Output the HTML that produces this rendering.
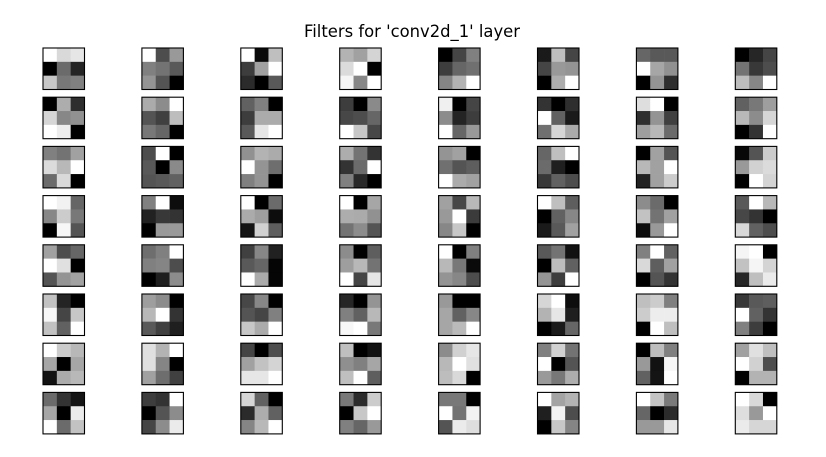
<!DOCTYPE html>
<html><head><meta charset="utf-8">
<style>
html,body{margin:0;padding:0;background:#fff;}
#wrap{width:826px;height:457px;position:relative;overflow:hidden;}
</style></head>
<body>
<div id="wrap">
<svg id="fig" width="826" height="457" viewBox="0 0 826 457" xmlns="http://www.w3.org/2000/svg">
<text x="412" y="37" text-anchor="middle" font-family="DejaVu Sans, Liberation Sans, sans-serif" font-size="16.4" fill="#000">Filters for 'conv2d_1' layer</text>
</svg>
</div>
<script>
const row1 = [
[1.0,0.85,0.9,0.0,0.42,0.14,0.78,0.47,0.5],
[1.0,0.3,0.6,0.5,0.45,0.35,0.58,0.33,0.0],
[1.0,0.04,0.75,0.24,0.63,1.0,0.17,0.0,0.35],
[0.7,0.63,0.83,0.86,1.0,0.0,0.96,0.53,1.0],
[0.0,0.27,0.5,0.24,0.4,0.44,0.52,0.7,1.0],
[0.1,0.75,0.27,0.27,0.6,0.58,0.0,0.68,1.0],
[0.4,0.35,0.35,1.0,0.65,0.57,0.0,0.58,0.18],
[0.0,0.15,0.27,0.45,0.22,0.3,0.74,0.53,1.0]];
const row2 = [
[0.0,0.68,0.18,0.84,0.53,0.57,1.0,0.93,0.0],
[0.67,0.55,1.0,0.33,0.25,0.74,0.47,0.4,0.0],
[0.38,0.5,0.0,0.24,0.67,0.67,0.35,0.9,1.0],
[0.24,0.0,0.54,0.28,0.3,0.4,1.0,0.78,0.28],
[0.94,0.0,0.27,0.55,0.14,0.24,1.0,0.4,0.6],
[0.2,0.0,0.18,1.0,0.38,0.1,0.44,0.84,0.67],
[0.87,1.0,0.0,0.18,0.58,0.25,0.62,0.72,0.42],
[0.38,0.47,0.62,0.72,0.55,0.84,0.0,0.2,1.0]];
const row3 = [
[0.5,0.45,0.63,0.86,0.72,1.0,0.42,0.85,0.0],
[0.3,1.0,0.0,0.35,0.0,0.54,0.33,0.35,0.38],
[0.57,0.7,0.67,1.0,0.58,0.43,0.5,0.58,0.0],
[0.68,0.45,0.2,0.2,0.42,1.0,0.5,0.16,0.0],
[0.58,0.63,0.0,0.44,0.33,0.37,1.0,0.67,0.63],
[0.4,0.75,1.0,0.42,0.12,0.0,0.22,0.38,0.3],
[0.0,0.63,0.33,0.72,0.63,1.0,0.13,0.63,0.8],
[0.03,0.33,0.8,0.6,0.82,0.86,0.0,1.0,0.83]];
const row4 = [
[1.0,0.95,0.4,0.53,0.8,0.47,0.0,0.97,0.33],
[0.5,1.0,0.05,0.13,0.22,0.2,0.0,0.6,0.6],
[1.0,0.0,0.42,0.67,0.62,0.05,0.08,0.82,0.37],
[1.0,0.0,0.65,0.68,0.67,0.57,0.45,0.55,0.33],
[0.63,0.28,0.72,0.6,1.0,0.23,0.53,0.78,0.0],
[1.0,0.75,0.37,0.0,0.38,0.53,0.1,0.35,0.63],
[0.55,0.42,0.0,0.76,0.45,0.63,0.05,0.6,1.0],
[0.35,1.0,0.72,0.28,0.2,0.0,0.85,0.38,0.3]];
const row5 = [
[0.63,0.3,0.4,1.0,0.88,0.0,0.33,0.58,0.63],
[0.43,0.5,1.0,0.5,0.52,0.3,0.0,0.12,0.55],
[0.25,0.53,0.13,0.35,0.4,0.02,1.0,0.67,0.02],
[0.55,0.0,0.37,0.62,0.72,0.45,1.0,0.27,0.9],
[1.0,0.0,0.5,0.72,0.47,0.04,0.58,0.53,0.3],
[0.35,0.45,0.07,0.0,0.74,0.38,0.58,0.24,1.0],
[0.5,1.0,0.38,0.85,0.37,0.63,0.0,0.33,0.2],
[0.96,1.0,0.0,0.76,0.96,0.83,0.15,0.75,0.92]];
const row6 = [
[0.76,0.14,0.0,0.97,0.27,0.78,0.76,0.38,1.0],
[0.62,0.55,0.0,0.72,1.0,0.2,0.35,0.25,0.12],
[0.28,0.53,0.0,0.33,0.27,0.5,0.78,0.67,1.0],
[0.15,0.0,0.58,0.5,0.38,0.72,0.97,1.0,0.47],
[0.6,0.0,0.0,0.65,0.38,0.53,0.65,0.73,1.0],
[0.84,1.0,0.05,0.7,0.9,0.12,0.0,0.1,0.4],
[0.75,0.8,0.5,0.8,0.93,0.93,0.0,1.0,0.75],
[0.22,0.35,0.37,1.0,0.38,0.2,0.5,0.24,0.0]];
const row7 = [
[1.0,0.8,0.72,0.65,0.0,0.65,0.07,0.67,0.72],
[0.88,0.7,1.0,0.88,0.52,0.0,0.63,0.43,0.25],
[0.27,0.0,0.3,0.63,0.76,0.83,0.9,0.9,1.0],
[0.75,0.0,0.07,0.56,0.5,0.65,0.75,1.0,0.37],
[0.55,0.82,0.9,0.72,1.0,0.88,0.74,0.85,0.0],
[0.5,0.82,0.45,1.0,0.0,0.33,0.6,0.47,0.68],
[0.0,0.74,0.5,0.6,0.07,0.97,0.38,0.08,1.0],
[0.63,0.88,0.75,1.0,0.82,0.3,0.0,0.7,0.7]];
const row8 = [
[0.42,0.2,0.08,0.65,0.0,0.92,1.0,0.42,0.76],
[0.24,0.2,1.0,0.0,0.33,0.55,0.27,0.55,0.92],
[0.84,0.38,0.0,0.17,0.68,0.38,0.52,0.72,1.0],
[0.47,0.17,0.8,0.0,0.78,1.0,0.5,0.4,0.6],
[0.47,0.47,0.0,1.0,0.45,0.95,0.33,0.92,0.87],
[1.0,0.64,0.7,0.12,0.95,0.3,0.0,0.78,0.52],
[1.0,0.77,0.48,0.4,0.0,0.17,0.6,0.6,0.9],
[1.0,0.85,0.0,0.87,0.6,1.0,0.92,0.84,0.84]];
const filterRows = [row1,row2,row3,row4,row5,row6,row7,row8];

const NS = "http://www.w3.org/2000/svg";
const svg = document.getElementById('fig');
const colX = c => 43 + c * 98.9;
const rowY = r => 48 + r * 49.2;
const BOX = 41.5;
const cellSize = BOX / 3;
const gray = v => { const g = Math.round(Math.max(0, Math.min(1, v)) * 255); return `rgb(${g},${g},${g})`; };

filterRows.forEach((row, r) => {
  row.forEach((f, c) => {
    const g = document.createElementNS(NS, 'g');
    
    
    const x0 = colX(c), y0 = rowY(r);
    f.forEach((v, i) => {
      const rect = document.createElementNS(NS, 'rect');
      
      
      rect.setAttribute('x', x0 + (i % 3) * cellSize);
      rect.setAttribute('y', y0 + Math.floor(i / 3) * cellSize);
      rect.setAttribute('width', cellSize + 0.3);
      rect.setAttribute('height', cellSize + 0.3);
      rect.setAttribute('fill', gray(v));
      g.appendChild(rect);
    });
    const border = document.createElementNS(NS, 'rect');
    
    
    border.setAttribute('x', x0);
    border.setAttribute('y', y0);
    border.setAttribute('width', BOX);
    border.setAttribute('height', BOX);
    border.setAttribute('fill', 'none');
    border.setAttribute('stroke', '#000');
    border.setAttribute('stroke-width', '1.1');
    g.appendChild(border);
    svg.appendChild(g);
  });
});
</script>
</body></html>
